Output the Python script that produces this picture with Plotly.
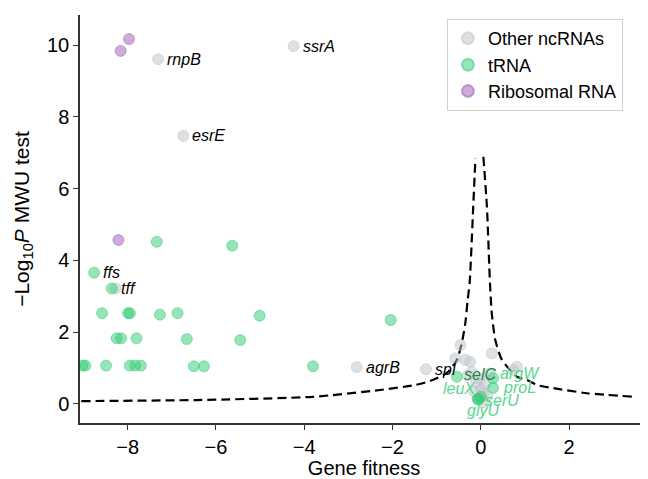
import plotly.graph_objects as go

# ---- data ----
other_x = [-7.31, -4.24, -6.74, -8.27, -2.81, -1.24, -0.46, -0.58, -0.35, -0.24, 0.25, 0.82, 0.74,
           -0.20, -0.10, 0.00, 0.05, -0.15, 0.10, 0.15, -0.05, 0.08, -0.30, 0.20, -0.02]
other_y = [9.61, 9.97, 7.47, 3.22, 1.03, 0.97, 1.64, 1.27, 1.23, 1.18, 1.41, 1.04, 0.95,
           0.90, 0.60, 0.40, 0.30, 0.35, 0.55, 0.22, 0.15, 0.05, 0.80, 0.85, 0.70]

trna_x = [-7.34, -5.63, -8.76, -8.36, -8.58, -7.99, -7.95, -7.27, -6.87, -5.01, -2.04,
          -8.25, -8.15, -7.80, -6.66, -5.45,
          -9.02, -8.96, -8.49, -7.95, -7.83, -7.70, -6.50, -6.27, -3.80,
          -0.54, 0.28, 0.28, -0.07, -0.05, 0.00]
trna_y = [4.52, 4.41, 3.66, 3.22, 2.53, 2.53, 2.53, 2.49, 2.53, 2.46, 2.34,
          1.83, 1.83, 1.83, 1.81, 1.78,
          1.07, 1.07, 1.07, 1.07, 1.07, 1.07, 1.05, 1.05, 1.05,
          0.76, 0.72, 0.45, 0.14, 0.12, 0.20]

ribo_x = [-7.97, -8.16, -8.21]
ribo_y = [10.17, 9.84, 4.57]

# threshold curve
curve_left_x = [-9.05, -6.44, -3.80, -2.28, -1.52, -1.15, -0.77, -0.54, -0.43, -0.35, -0.30, -0.25, -0.17, -0.12]
curve_left_y = [0.08, 0.11, 0.20, 0.39, 0.52, 0.64, 0.86, 1.23, 1.69, 2.25, 2.85, 3.40, 5.50, 6.85]
curve_right_x = [0.06, 0.14, 0.21, 0.25, 0.33, 0.48, 0.82, 1.05, 1.27, 1.65, 2.41, 3.47]
curve_right_y = [6.89, 5.50, 3.35, 2.53, 1.78, 1.23, 0.76, 0.67, 0.53, 0.44, 0.30, 0.20]

black_labels = ["rnpB", "ssrA", "esrE", "ffs", "tff", "agrB", "spl"]
black_lx = [-7.31, -4.24, -6.74, -8.76, -8.36, -2.81, -1.24]
black_ly = [9.61, 9.97, 7.47, 3.66, 3.22, 1.03, 0.97]

green_labels = ["selC", "argW", "leuX", "proL", "serU", "glyU"]
green_lx = [-0.42, 0.40, -0.90, 0.46, 0.05, -0.35]
green_ly = [0.81, 0.86, 0.42, 0.45, 0.11, -0.19]

GREY = "rgba(189,195,199,0.5)"
GREEN = "rgba(46,204,113,0.5)"
PURPLE = "rgba(155,89,182,0.5)"

fig = go.Figure()
for cx, cy in ((curve_left_x, curve_left_y), (curve_right_x, curve_right_y)):
    fig.add_trace(go.Scatter(x=cx, y=cy, mode="lines",
                             line=dict(color="black", width=2.2, dash="9px,5px", shape="spline", smoothing=0.6),
                             showlegend=False, hoverinfo="skip"))
fig.add_trace(go.Scatter(x=other_x, y=other_y, mode="markers", name="Other ncRNAs",
                         marker=dict(size=11, color=GREY, line=dict(width=1, color=GREY))))
fig.add_trace(go.Scatter(x=trna_x, y=trna_y, mode="markers", name="tRNA",
                         marker=dict(size=11, color=GREEN, line=dict(width=1, color=GREEN))))
fig.add_trace(go.Scatter(x=ribo_x, y=ribo_y, mode="markers", name="Ribosomal RNA",
                         marker=dict(size=11, color=PURPLE, line=dict(width=1, color=PURPLE))))

for t, x, y in zip(black_labels, black_lx, black_ly):
    fig.add_annotation(x=x, y=y, text=f"<i>{t}</i>", showarrow=False, xanchor="left", xshift=7,
                       font=dict(size=16, color="black"))
for t, x, y in zip(green_labels, green_lx, green_ly):
    col = "#1e8449" if t == "selC" else "#58d68d"
    fig.add_annotation(x=x, y=y, text=f"<i>{t}</i>", showarrow=False, xanchor="left",
                       font=dict(size=16, color=col))

fig.update_layout(
    width=640, height=471,
    margin=dict(l=72, r=0, t=7, b=56),
    plot_bgcolor="white", paper_bgcolor="white",
    font=dict(family="Liberation Sans, Arial, sans-serif", size=18, color="black"),
    legend=dict(x=0.646, y=0.99, xanchor="left", yanchor="top", bordercolor="#d0d0d0", borderwidth=1,
                font=dict(size=18), itemsizing="constant", bgcolor="white", tracegroupgap=0,
                entrywidth=160, entrywidthmode="pixels"),
    xaxis=dict(range=[-9.08, 3.79], tickvals=[-8, -6, -4, -2, 0, 2], showgrid=False, zeroline=False,
               showline=True, linecolor="#333333", linewidth=1.5, ticks="outside", ticklen=5,
               tickcolor="#333333", tickfont=dict(size=20),
               title=dict(text="Gene fitness", font=dict(size=20), standoff=6)),
    yaxis=dict(range=[-0.53, 10.84], tickvals=[0, 2, 4, 6, 8, 10], showgrid=False, zeroline=False,
               showline=True, linecolor="#333333", linewidth=1.5, ticks="outside", ticklen=5,
               tickcolor="#333333", tickfont=dict(size=20),
               title=dict(text="\u2212Log<sub>10</sub><i>P</i> MWU test", font=dict(size=21), standoff=12)),
)
fig.write_html("out.html")
